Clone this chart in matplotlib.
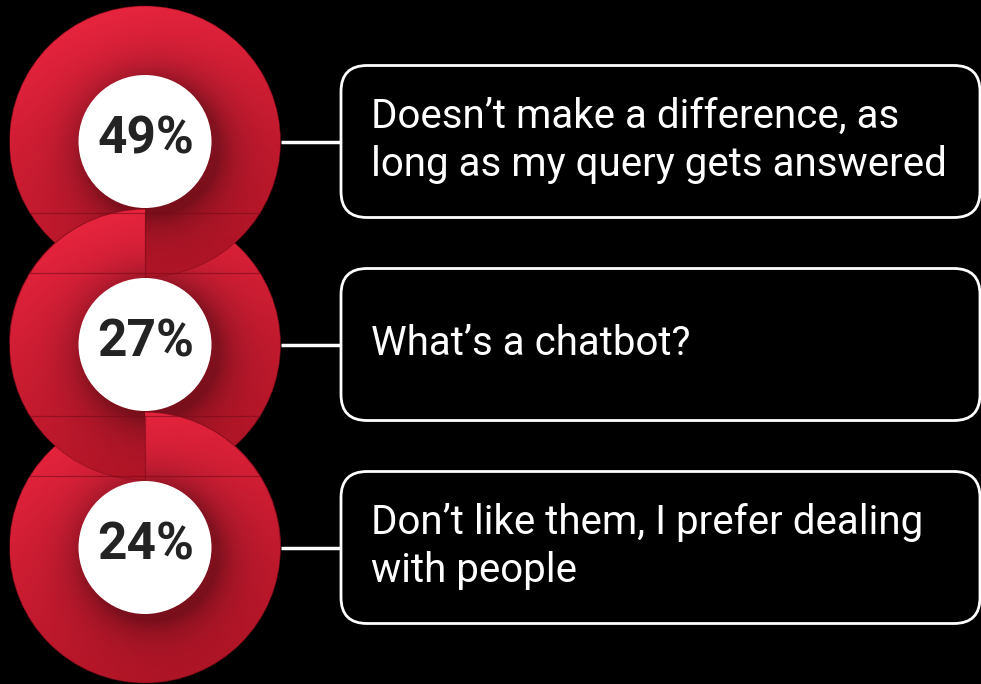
import numpy as np
import matplotlib
matplotlib.use("Agg")
import matplotlib.pyplot as plt
from matplotlib.patches import Circle, Wedge, Arc, FancyBboxPatch

# ---- data ----
shares = ["49%", "27%", "24%"]
answers = [
    "Doesn\u2019t make a difference, as\nlong as my query gets answered",
    "What\u2019s a chatbot?",
    "Don\u2019t like them, I prefer dealing\nwith people",
]

# ---- layout (pixel units) ----
W, H = 981, 684
CX = 145
CYS = [141.5, 344.5, 547.5]
R_OUT = 135.5
R_IN = 66.5
BOX_X0, BOX_X1 = 341, 980
BOX_H = 152

BRIGHT = np.array([232, 36, 62]) / 255
DARK = np.array([168, 18, 34]) / 255
LINE_RED = "#7a0b18"

TEXT_FONT = "Roboto"


def ring_image(cx, cy, n=420):
    xs = np.linspace(cx - R_OUT, cx + R_OUT, n)
    ys = np.linspace(cy - R_OUT, cy + R_OUT, n)
    X, Y = np.meshgrid(xs, ys)
    dx, dy = (X - cx) / R_OUT, (Y - cy) / R_OUT
    t = np.clip(0.42 + 0.42 * dy + 0.12 * dx, 0, 1)
    img = BRIGHT[None, None, :] * (1 - t[..., None]) + DARK[None, None, :] * t[..., None]
    # soft shadow round the hole, pushed down-right
    r = np.hypot(X - cx - 7, Y - cy - 7)
    sh = np.exp(-np.clip(r - R_IN, 0, None) / 22.0)
    img = img * (1 - 0.36 * sh[..., None])
    return np.clip(img, 0, 1)


def draw_ring(ax, cx, cy, img, clip, z):
    im = ax.imshow(img, extent=(cx - R_OUT, cx + R_OUT, cy + R_OUT, cy - R_OUT),
                   origin="upper", interpolation="bilinear", zorder=z)
    clip.set_transform(ax.transData)
    im.set_clip_path(clip)
    return im


fig = plt.figure(figsize=(W / 100, H / 100), dpi=100, facecolor="black")
ax = fig.add_axes([0, 0, 1, 1])
ax.set_facecolor("black")
ax.set_xlim(0, W)
ax.set_ylim(H, 0)
ax.set_aspect("equal")
ax.axis("off")

imgs = [ring_image(CX, cy) for cy in CYS]

# stack rings: top ring drawn last
for i in reversed(range(len(CYS))):
    cy = CYS[i]
    z = 1 + (len(CYS) - i)
    draw_ring(ax, CX, cy, imgs[i], Circle((CX, cy), R_OUT), z=z)
    ax.add_patch(Circle((CX, cy), R_OUT, fc="none", ec=LINE_RED, lw=0.7,
                        alpha=0.5, zorder=z))

# interlock: alternate which ring sits on top in each overlap half
for i in range(len(CYS) - 1):
    lower = i + 1
    cy = CYS[lower]
    if i % 2 == 0:
        th1, th2 = 180, 270   # top-left quarter of the lower ring
    else:
        th1, th2 = 270, 360   # top-right quarter of the lower ring
    draw_ring(ax, CX, cy, imgs[lower], Wedge((CX, cy), R_OUT, th1, th2), z=5)
    ax.add_patch(Arc((CX, cy), 2 * R_OUT, 2 * R_OUT, theta1=th1, theta2=th2,
                     ec=LINE_RED, lw=0.8, alpha=0.7, zorder=5))

# faint slice lines
off = 0.53 * R_OUT
dxl = np.sqrt(R_OUT ** 2 - off ** 2)
for i, cy in enumerate(CYS):
    if i > 0:
        ax.plot([CX - dxl, CX + dxl], [cy - off, cy - off], color=LINE_RED,
                lw=0.9, alpha=0.6, zorder=6)
    if i < len(CYS) - 1:
        ax.plot([CX - dxl, CX + dxl], [cy + off, cy + off], color=LINE_RED,
                lw=0.9, alpha=0.6, zorder=6)
        ax.plot([CX, CX], [cy + off, cy + R_OUT], color=LINE_RED, lw=0.9,
                alpha=0.6, zorder=6)

# white centres and percentages
for cy, s in zip(CYS, shares):
    ax.add_patch(Circle((CX, cy), R_IN, fc="white", ec="none", zorder=7))
    ax.text(CX + 1, cy - 2, s, ha="center", va="center", fontsize=37,
            fontweight="bold", family=["Roboto", "DejaVu Sans"], color="#232323",
            zorder=8)

# connectors, boxes and answers
for cy, a in zip(CYS, answers):
    ax.plot([CX + R_OUT, BOX_X0], [cy, cy], color="white", lw=2.5, zorder=3,
            solid_capstyle="butt")
    box = FancyBboxPatch((BOX_X0, cy - BOX_H / 2), BOX_X1 - BOX_X0, BOX_H,
                         boxstyle="round,pad=0,rounding_size=26",
                         fc="black", ec="white", lw=2, zorder=3)
    ax.add_patch(box)
    ax.text(BOX_X0 + 30, cy - 1, a, ha="left", va="center", fontsize=29,
            family=[TEXT_FONT, "DejaVu Sans"], color="white", linespacing=1.32,
            zorder=8)

fig.savefig("out.png", dpi=100, facecolor="black")
